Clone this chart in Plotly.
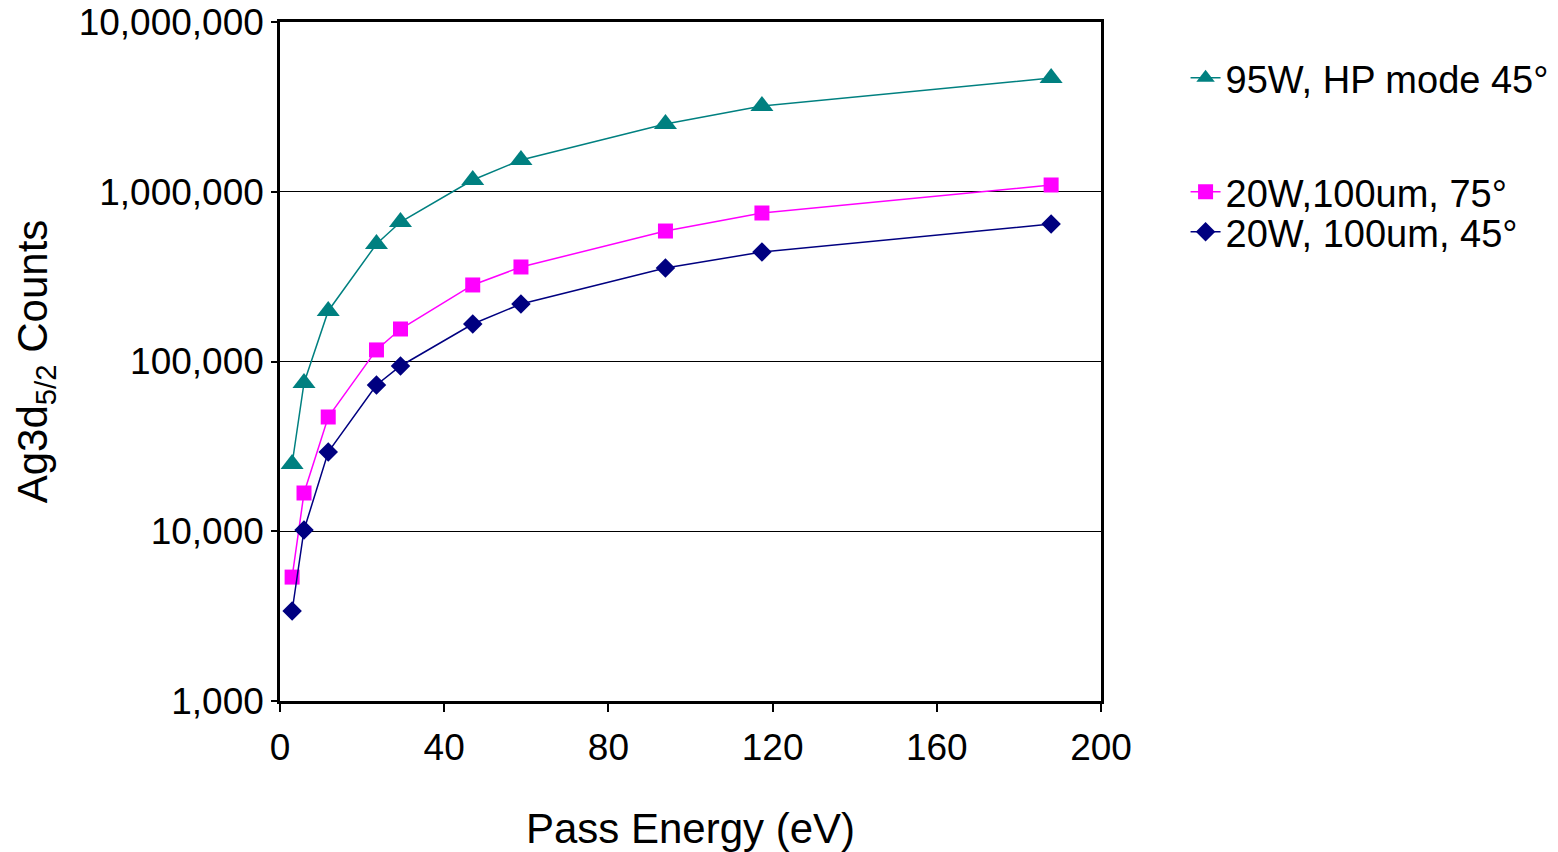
import plotly.graph_objects as go

# Pass energies (eV)
pass_energy = [2.95, 5.85, 11.75, 23.5, 29.35, 46.95, 58.7, 93.9, 117.4, 187.85]

# Ag 3d5/2 peak counts for each source / geometry
hp_95w_45 = [24900, 74700, 198500, 492000, 663000, 1173000, 1538000, 2506000, 3200000, 4677000]
w20_100um_75 = [5370, 16800, 47100, 117000, 155400, 282400, 360400, 587000, 749600, 1096000]
w20_100um_45 = [3390, 10170, 29300, 72700, 94100, 166300, 218200, 355500, 441600, 645700]

y_tickvals = [1000, 10000, 100000, 1000000, 10000000]
y_ticktext = ["1,000", "10,000", "100,000", "1,000,000", "10,000,000"]
x_tickvals = [0, 40, 80, 120, 160, 200]

font = "Liberation Sans, Arial, sans-serif"

fig = go.Figure()
fig.add_trace(go.Scatter(
    x=pass_energy, y=hp_95w_45, mode="lines+markers", name="95W, HP mode 45°",
    line=dict(color="#008080", width=1.5),
    marker=dict(symbol="triangle-up", size=20, color="#008080"),
    legend="legend",
))
fig.add_trace(go.Scatter(
    x=pass_energy, y=w20_100um_75, mode="lines+markers", name="20W,100um, 75°",
    line=dict(color="#FF00FF", width=1.5),
    marker=dict(symbol="square", size=15, color="#FF00FF"),
    legend="legend2",
))
fig.add_trace(go.Scatter(
    x=pass_energy, y=w20_100um_45, mode="lines+markers", name="20W, 100um, 45°",
    line=dict(color="#000080", width=1.5),
    marker=dict(symbol="diamond", size=15, color="#000080"),
    legend="legend3",
))


def legend_box(ypos):
    return dict(
        x=1.103, y=ypos, xanchor="left", yanchor="middle",
        font=dict(size=38), itemwidth=30,
        bgcolor="rgba(0,0,0,0)",
    )


fig.update_layout(
    width=1558, height=852,
    margin=dict(l=280, r=457, t=22, b=151, autoexpand=False),
    paper_bgcolor="white", plot_bgcolor="white",
    font=dict(family=font, size=37, color="black"),
    showlegend=True,
    legend=legend_box(0.9175),
    legend2=legend_box(0.7496),
    legend3=legend_box(0.6907),
    xaxis=dict(
        range=[0, 200], tickvals=x_tickvals,
        ticks="outside", ticklen=8, tickwidth=1.5, tickcolor="black",
        showline=True, linecolor="black", linewidth=2.5, mirror=True,
        showgrid=False, zeroline=False, automargin=False,
        tickfont=dict(size=37), ticklabelstandoff=4,
        title=dict(text="Pass Energy (eV)", font=dict(size=42), standoff=52),
    ),
    yaxis=dict(
        type="log", range=[3, 7], tickvals=y_tickvals, ticktext=y_ticktext,
        ticks="outside", ticklen=6, tickwidth=1.5, tickcolor="black",
        showline=True, linecolor="black", linewidth=2.5, mirror=True,
        showgrid=True, gridcolor="black", gridwidth=1.2,
        zeroline=False, automargin=False,
        tickfont=dict(size=37),
        title=dict(text="Ag3d<sub>5/2</sub> Counts", font=dict(size=42), standoff=18),
    ),
)

fig.write_html("out.html")
